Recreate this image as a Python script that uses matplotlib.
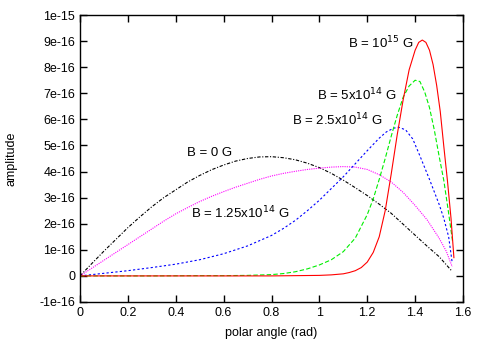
import numpy as np
import matplotlib
matplotlib.use("Agg")
import matplotlib.pyplot as plt

plt.rcParams['font.family'] = ['Liberation Sans', 'DejaVu Sans']

# amplitudes, in units of 1e-16
scale = 1e-16

x_b0 = [0, 0.05, 0.1, 0.15, 0.2, 0.25, 0.3, 0.35, 0.4, 0.45, 0.5, 0.55, 0.6, 0.65, 0.7, 0.75, 0.8,
        0.85, 0.9, 0.95, 1.0, 1.05, 1.1, 1.15, 1.2, 1.25, 1.3, 1.35, 1.4, 1.45, 1.5, 1.553]
y_b0 = [0, 0.48, 0.95, 1.4, 1.85, 2.26, 2.65, 3.0, 3.3, 3.6, 3.85, 4.07, 4.25, 4.4, 4.5, 4.56, 4.57,
        4.53, 4.45, 4.32, 4.15, 3.93, 3.67, 3.38, 3.08, 2.75, 2.4, 1.98, 1.56, 1.14, 0.74, 0.19]

x_b125 = [0, 0.05, 0.1, 0.15, 0.2, 0.25, 0.3, 0.35, 0.4, 0.45, 0.5, 0.55, 0.6, 0.65, 0.7, 0.75, 0.8,
          0.85, 0.9, 0.95, 1.0, 1.05, 1.1, 1.15, 1.2, 1.25, 1.3, 1.35, 1.4, 1.45, 1.5, 1.53, 1.555]
y_b125 = [0, 0.3, 0.6, 0.9, 1.2, 1.5, 1.8, 2.1, 2.38, 2.62, 2.85, 3.05, 3.23, 3.4, 3.55, 3.7, 3.83,
          3.93, 4.01, 4.08, 4.13, 4.17, 4.19, 4.17, 4.08, 3.88, 3.6, 3.2, 2.7, 2.15, 1.45, 0.95, 0.35]

x_b25 = [0, 0.1, 0.2, 0.3, 0.4, 0.5, 0.6, 0.7, 0.8, 0.85, 0.9, 0.95, 1.0, 1.05, 1.1, 1.15, 1.2,
         1.25, 1.28, 1.31, 1.33, 1.36, 1.39, 1.42, 1.46, 1.5, 1.52, 1.54, 1.555]
y_b25 = [0, 0.1, 0.2, 0.32, 0.45, 0.62, 0.85, 1.15, 1.55, 1.82, 2.13, 2.5, 2.9, 3.35, 3.8, 4.3, 4.8,
         5.28, 5.52, 5.66, 5.7, 5.6, 5.25, 4.6, 3.7, 2.75, 2.2, 1.5, 0.5]

x_b5 = [0, 0.3, 0.5, 0.6, 0.7, 0.8, 0.85, 0.9, 0.95, 1.0, 1.05, 1.1, 1.15, 1.2, 1.225, 1.25, 1.275,
        1.3, 1.325, 1.35, 1.375, 1.4, 1.42, 1.44, 1.46, 1.48, 1.5, 1.52, 1.54, 1.556]
y_b5 = [0, 0.0, 0.01, 0.01, 0.02, 0.05, 0.09, 0.16, 0.27, 0.42, 0.62, 0.93, 1.45, 2.35, 2.95, 3.7, 4.5,
        5.35, 6.15, 6.85, 7.28, 7.5, 7.45, 7.05, 6.45, 5.6, 4.6, 3.65, 2.4, 1.35]

x_b10 = [0, 0.8, 1.0, 1.05, 1.1, 1.125, 1.15, 1.175, 1.2, 1.225, 1.25, 1.275, 1.3, 1.325, 1.35, 1.375,
         1.4, 1.415, 1.43, 1.445, 1.46, 1.475, 1.49, 1.505, 1.52, 1.535, 1.55, 1.562]
y_b10 = [0, 0.0, 0.02, 0.04, 0.08, 0.13, 0.2, 0.32, 0.53, 0.9, 1.5, 2.5, 3.9, 5.4, 6.75, 7.9,
         8.65, 8.95, 9.04, 8.95, 8.65, 8.1, 7.3, 6.3, 4.95, 3.65, 2.2, 0.7]

yticks = [-1, 0, 1, 2, 3, 4, 5, 6, 7, 8, 9, 10]
ytick_labels = ['-1e-16', '0', '1e-16', '2e-16', '3e-16', '4e-16', '5e-16',
                '6e-16', '7e-16', '8e-16', '9e-16', '1e-15']
xticks = [0, 0.2, 0.4, 0.6, 0.8, 1.0, 1.2, 1.4, 1.6]
xtick_labels = ['0', '0.2', '0.4', '0.6', '0.8', '1', '1.2', '1.4', '1.6']

fig = plt.figure(figsize=(4.85, 3.39), dpi=100)
ax = fig.add_axes([80 / 485, 1 - 302 / 339, 383 / 485, 287 / 339])

lw = 0.8
ax.plot(x_b0, np.array(y_b0) * scale, color='black', lw=lw, dashes=(3, 1.5, 1, 1.5))
ax.plot(x_b125, np.array(y_b125) * scale, color='magenta', lw=lw, dashes=(1, 1))
ax.plot(x_b25, np.array(y_b25) * scale, color='blue', lw=lw, dashes=(2, 2))
ax.plot(x_b5, np.array(y_b5) * scale, color='#00ee00', lw=lw, dashes=(4, 2))
ax.plot(x_b10, np.array(y_b10) * scale, color='red', lw=lw)

ax.set_xlim(0, 1.6)
ax.set_ylim(-1 * scale, 10 * scale)
ax.set_xticks(xticks, xtick_labels)
ax.set_yticks(np.array(yticks) * scale, ytick_labels)
ax.tick_params(direction='in', length=5, width=1, top=True, right=True, labelsize=9)
for s in ax.spines.values():
    s.set_linewidth(1.0)

ax.set_xlabel('polar angle (rad)', fontsize=9)
ax.set_ylabel('amplitude', fontsize=9)
ax.xaxis.set_label_coords(0.5, -0.087)
ax.yaxis.set_label_coords(-0.164, 0.5)

fs = 9.5
ax.text(0.543, 4.7 * scale, 'B = 0 G', ha='center', va='center', fontsize=fs)
ax.text(0.668, 2.43 * scale, r'B = 1.25x10$^{14}$ G', ha='center', va='center', fontsize=fs)
ax.text(1.076, 5.99 * scale, r'B = 2.5x10$^{14}$ G', ha='center', va='center', fontsize=fs)
ax.text(1.156, 6.95 * scale, r'B = 5x10$^{14}$ G', ha='center', va='center', fontsize=fs)
ax.text(1.259, 8.94 * scale, r'B = 10$^{15}$ G', ha='center', va='center', fontsize=fs)

fig.savefig('out.png', dpi=100)
